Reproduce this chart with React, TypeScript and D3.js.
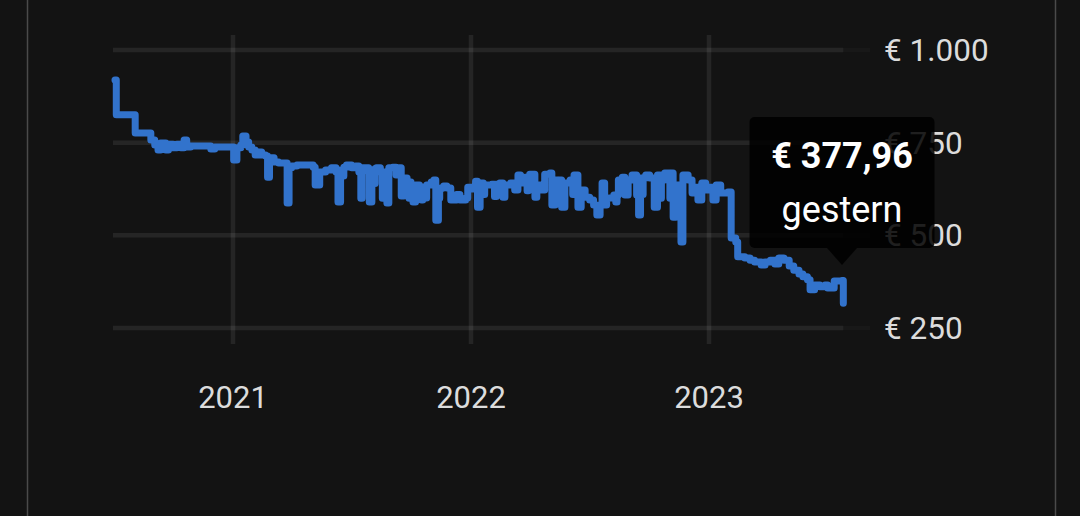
import { useEffect, useRef } from 'react';
import * as d3 from 'd3';

// price history (step series, value holds until next date)
// one row per month, both arrays line up row by row
const priceDates = [
  '2020-07-04', '2020-07-06',
  '2020-08-04', '2020-08-28',
  '2020-09-03', '2020-09-08', '2020-09-12', '2020-09-20', '2020-09-24',
  '2020-10-01', '2020-10-07', '2020-10-13', '2020-10-18', '2020-10-22', '2020-10-28',
  '2020-11-28',
  '2020-12-04',
  '2021-01-02', '2021-01-07', '2021-01-13', '2021-01-16', '2021-01-21', '2021-01-25', '2021-01-30',
  '2021-02-04', '2021-02-10', '2021-02-14', '2021-02-20', '2021-02-23', '2021-02-26',
  '2021-03-05', '2021-03-12', '2021-03-25', '2021-03-28',
  '2021-04-01', '2021-04-09',
  '2021-05-04', '2021-05-07', '2021-05-14', '2021-05-23',
  '2021-06-01', '2021-06-08', '2021-06-11', '2021-06-15', '2021-06-18', '2021-06-20', '2021-06-24',
  '2021-07-02', '2021-07-08', '2021-07-13', '2021-07-16', '2021-07-18', '2021-07-28', '2021-07-29',
  '2021-08-02', '2021-08-05', '2021-08-07', '2021-08-09', '2021-08-15', '2021-08-18', '2021-08-20', '2021-08-22', '2021-08-25', '2021-08-28',
  '2021-09-03', '2021-09-08', '2021-09-12', '2021-09-16', '2021-09-20', '2021-09-25', '2021-09-28', '2021-09-30',
  '2021-10-01', '2021-10-04', '2021-10-08', '2021-10-14', '2021-10-17', '2021-10-19', '2021-10-21', '2021-10-25',
  '2021-11-01', '2021-11-05', '2021-11-08', '2021-11-12', '2021-11-14', '2021-11-16', '2021-11-20', '2021-11-25',
  '2021-12-01', '2021-12-10', '2021-12-15', '2021-12-24', '2021-12-27',
  '2022-01-02', '2022-01-08', '2022-01-11', '2022-01-15', '2022-01-20', '2022-01-22',
  '2022-02-02', '2022-02-06', '2022-02-09', '2022-02-14', '2022-02-19', '2022-02-22',
  '2022-03-03', '2022-03-09', '2022-03-14', '2022-03-18', '2022-03-25', '2022-03-28', '2022-03-30',
  '2022-04-01', '2022-04-09', '2022-04-12', '2022-04-18', '2022-04-24',
  '2022-05-02', '2022-05-05', '2022-05-10', '2022-05-14', '2022-05-16', '2022-05-20', '2022-05-25',
  '2022-06-02', '2022-06-06', '2022-06-08', '2022-06-14', '2022-06-19', '2022-06-25',
  '2022-07-02', '2022-07-08', '2022-07-13', '2022-07-18', '2022-07-21', '2022-07-25', '2022-07-28',
  '2022-08-01', '2022-08-08', '2022-08-11', '2022-08-13', '2022-08-15', '2022-08-21', '2022-08-25', '2022-08-30',
  '2022-09-05', '2022-09-12', '2022-09-15', '2022-09-18', '2022-09-20', '2022-09-22', '2022-09-26',
  '2022-10-02', '2022-10-09', '2022-10-14', '2022-10-18', '2022-10-20', '2022-10-22', '2022-10-25',
  '2022-11-02', '2022-11-04', '2022-11-07', '2022-11-11', '2022-11-14', '2022-11-16', '2022-11-19', '2022-11-22', '2022-11-30',
  '2022-12-06', '2022-12-10', '2022-12-15', '2022-12-21', '2022-12-27',
  '2023-01-01', '2023-01-07', '2023-01-12', '2023-01-19', '2023-01-30',
  '2023-02-04', '2023-02-11', '2023-02-14', '2023-02-25',
  '2023-03-05', '2023-03-12', '2023-03-22', '2023-03-28',
  '2023-04-05', '2023-04-12', '2023-04-18', '2023-04-26',
  '2023-05-04', '2023-05-11', '2023-05-19', '2023-05-25',
  '2023-06-01', '2023-06-05', '2023-06-12', '2023-06-20', '2023-06-28',
  '2023-07-02', '2023-07-12', '2023-07-24', '2023-07-26',
];
const prices = [
  919, 825,
  776, 757,
  744, 730, 749, 730, 746,
  736, 746, 736, 757, 738, 741,
  733,
  738,
  703, 736, 744, 768, 752, 738, 730,
  717, 725, 717, 714, 657, 709,
  698, 695, 587, 682,
  687, 690,
  684, 636, 671, 676,
  682, 671, 590, 676, 660, 684, 690,
  682, 687, 671, 600, 682, 671, 590,
  676, 640, 680, 682, 671, 600, 671, 663, 587, 682,
  684, 663, 682, 606, 655, 644, 600, 644,
  622, 590, 636, 622, 595, 630, 601, 636,
  644, 649, 541, 600, 625, 628, 633, 628,
  595, 610, 595, 601, 630,
  625, 646, 576, 641, 610, 636,
  638, 605, 638, 641, 603, 636,
  641, 622, 663, 641, 657, 620, 657,
  665, 603, 636, 622, 665,
  668, 582, 649, 600, 649, 576, 641,
  649, 610, 663, 576, 622, 603,
  595, 582, 555, 582, 641, 582, 600,
  601, 609, 590, 609, 649, 657, 609, 649,
  663, 609, 555, 655, 610, 655, 663,
  655, 576, 663, 600, 663, 649, 668,
  600, 668, 549, 636, 600, 636, 482, 663, 649,
  614, 630, 595, 641, 622,
  630, 595, 636, 614, 617,
  493, 482, 442, 439,
  433, 428, 420, 428,
  433, 423, 439, 433,
  417, 406, 396, 388,
  380, 353, 366, 361, 366,
  358, 377, 377.96, 317,
];
const yTicks = [250, 500, 750, 1000];
const xTicks = ['2021-01-01', '2022-01-01', '2023-01-01'];
const tooltipIndex = prices.length - 2; // "gestern"
const tooltipLabel = 'gestern';

const W = 1080;
const H = 516;

const fmtEuro = (v: number) => '€ ' + d3.format(',')(v).replace(/,/g, '.');
const fmtPrice = (v: number) => '€ ' + v.toFixed(2).replace('.', ',');

export default function App() {
  const svgRef = useRef<SVGSVGElement>(null);

  useEffect(() => {
    const parse = d3.utcParse('%Y-%m-%d');
    const data = priceDates.map((d, i) => ({ date: parse(d)!, value: prices[i] }));

    const x = d3.scaleUtc().domain([parse('2021-01-01')!, parse('2023-01-01')!]).range([233, 709]);
    const y = d3.scaleLinear().domain([250, 1000]).range([328, 50]);

    const svg = d3.select(svgRef.current);
    svg.selectAll('*').remove();

    svg.append('rect').attr('width', W).attr('height', H).attr('fill', '#131313');

    // card edges
    [27.5, 1055.5].forEach(cx => {
      svg.append('line').attr('x1', cx).attr('x2', cx).attr('y1', 0).attr('y2', H)
        .attr('stroke', '#4a4a4a').attr('stroke-width', 1.5);
    });

    const grid = 'rgba(255,255,255,0.08)';
    const xEnd = x(data[data.length - 1].date);

    // horizontal grid
    svg.append('g').selectAll('line').data(yTicks).join('line')
      .attr('x1', 113).attr('x2', xEnd)
      .attr('y1', d => y(d)).attr('y2', d => y(d))
      .attr('stroke', grid).attr('stroke-width', 4.5);
    svg.append('g').selectAll('line').data(yTicks).join('line')
      .attr('x1', xEnd).attr('x2', 870)
      .attr('y1', d => y(d)).attr('y2', d => y(d))
      .attr('stroke', 'rgba(255,255,255,0.025)').attr('stroke-width', 4.5);

    // vertical grid
    svg.append('g').selectAll('line').data(xTicks).join('line')
      .attr('x1', d => x(parse(d)!)).attr('x2', d => x(parse(d)!))
      .attr('y1', 35).attr('y2', 344)
      .attr('stroke', grid).attr('stroke-width', 4.5);

    const font = 'Roboto, "Noto Sans", sans-serif';

    svg.append('g').selectAll('text').data(yTicks).join('text')
      .attr('x', 884).attr('y', d => y(d) + 11)
      .attr('fill', '#dcdcdc').attr('font-family', font).attr('font-size', 31.5)
      .text(d => fmtEuro(d));

    svg.append('g').selectAll('text').data(xTicks).join('text')
      .attr('x', d => x(parse(d)!)).attr('y', 408)
      .attr('text-anchor', 'middle')
      .attr('fill', '#dcdcdc').attr('font-family', font).attr('font-size', 31)
      .text(d => d.slice(0, 4));

    const line = d3.line<{ date: Date; value: number }>()
      .x(d => x(d.date)).y(d => y(d.value))
      .curve(d3.curveStepAfter);

    svg.append('path').datum(data)
      .attr('fill', 'none').attr('stroke', '#3273cc').attr('stroke-width', 7)
      .attr('stroke-linejoin', 'round').attr('stroke-linecap', 'round')
      .attr('d', line);

    // tooltip
    const tp = data[tooltipIndex];
    const tx = x(tp.date);
    const bw = 185, bh = 131, by = 117;
    const tt = svg.append('g');
    tt.append('rect').attr('x', tx - bw / 2).attr('y', by).attr('width', bw).attr('height', bh)
      .attr('rx', 5).attr('fill', 'rgba(0,0,0,0.86)');
    tt.append('path')
      .attr('d', `M${tx - 15},${by + bh} L${tx + 15},${by + bh} L${tx},${by + bh + 17} Z`)
      .attr('fill', 'rgba(0,0,0,0.86)');
    tt.append('text').attr('x', tx).attr('y', 168).attr('text-anchor', 'middle')
      .attr('fill', '#fff').attr('font-family', font).attr('font-weight', 700).attr('font-size', 36)
      .text(fmtPrice(tp.value));
    tt.append('text').attr('x', tx).attr('y', 222).attr('text-anchor', 'middle')
      .attr('fill', '#fff').attr('font-family', font).attr('font-size', 36)
      .text(tooltipLabel);
  }, []);

  return (
    <div style={{ position: 'fixed', left: 0, top: 0, width: W, height: H }}>
      <svg ref={svgRef} width={W} height={H} style={{ display: 'block' }} />
    </div>
  );
}
